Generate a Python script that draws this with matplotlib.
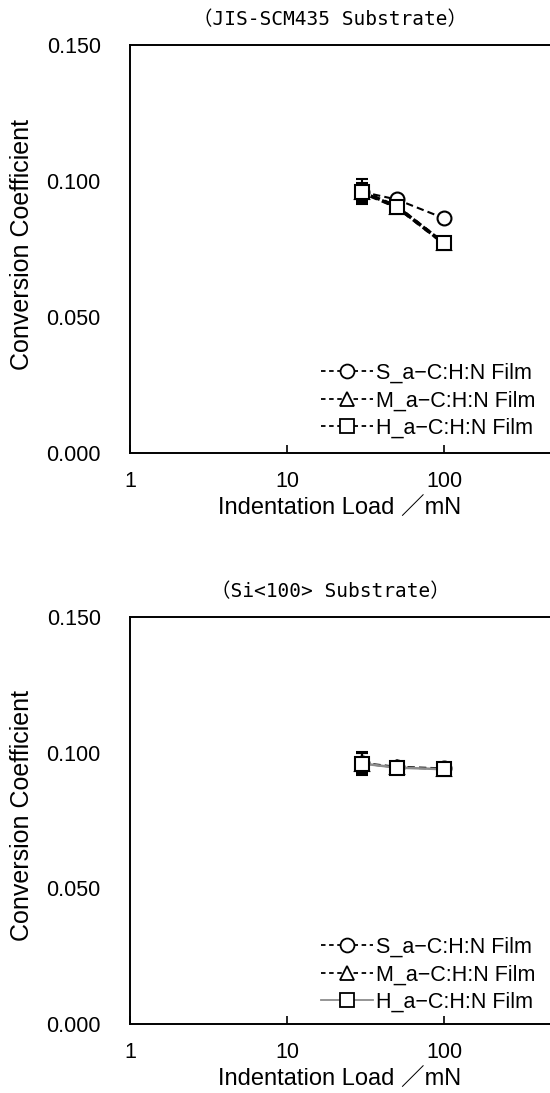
import matplotlib
matplotlib.use("Agg")
import matplotlib.pyplot as plt
from matplotlib.lines import Line2D
import numpy as np

# ---- data ----
loads = [30, 50, 100]
series_names = ["S_a\u2212C:H:N Film", "M_a\u2212C:H:N Film", "H_a\u2212C:H:N Film"]

# JIS-SCM435 substrate
scm_S = [0.0960, 0.0932, 0.0863]
scm_M = [0.0958, 0.0905, 0.0771]
scm_H = [0.0961, 0.0906, 0.0771]
scm_S_err = [0.0030, 0.0010, 0.0010]
scm_M_err = [0.0035, 0.0012, 0.0010]
scm_H_err = [0.0045, 0.0012, 0.0010]

# Si<100> substrate
si_S = [0.0962, 0.0948, 0.0942]
si_M = [0.0960, 0.0946, 0.0940]
si_H = [0.0960, 0.0945, 0.0939]
si_S_err = [0.0035, 0.0008, 0.0008]
si_M_err = [0.0038, 0.0008, 0.0008]
si_H_err = [0.0042, 0.0008, 0.0008]

titles = ["\uff08JIS-SCM435 Substrate\uff09", "\uff08Si<100> Substrate\uff09"]
yticks = [0.0, 0.05, 0.10, 0.15]
ytick_labels = ["0.000", "0.050", "0.100", "0.150"]
xticks = [1, 10, 100]
xtick_labels = ["1", "10", "100"]
xlabel = "Indentation Load \uff0fmN"
ylabel = "Conversion Coefficient"

W, H = 550, 1093
fig = plt.figure(figsize=(W / 100, H / 100), dpi=100)

sans = ["Liberation Sans", "Noto Sans CJK JP"]
mono = ["DejaVu Sans Mono", "Noto Sans CJK JP"]

def axes_rect(left, top, right, bottom):
    return [left / W, 1 - bottom / H, (right - left) / W, (bottom - top) / H]

panels = [
    dict(top=45, bottom=453, title_y=20,
         S=scm_S, M=scm_M, Hs=scm_H, Se=scm_S_err, Me=scm_M_err, He=scm_H_err,
         Hstyle=dict(color="black", ls=(0, (2.0, 1.4)), lw=2.6),
         Mls=(0.8, (2.0, 1.4)), Mlw=2.6, leg_top=363),
    dict(top=617, bottom=1024, title_y=592,
         S=si_S, M=si_M, Hs=si_H, Se=si_S_err, Me=si_M_err, He=si_H_err,
         Hstyle=dict(color="#8c8c8c", ls="-", lw=1.8),
         Mls=(0, (3.5, 2)), Mlw=1.5, leg_top=937),
]

xmax = 10 ** ((553 - 130) / 157.0)

for i, p in enumerate(panels):
    ax = fig.add_axes(axes_rect(130, p["top"], 553, p["bottom"]))
    ax.set_xscale("log")
    ax.set_xlim(1, xmax)
    ax.set_ylim(0, 0.15)

    mk = dict(markersize=10, markerfacecolor="white", markeredgecolor="black",
              markeredgewidth=1.5)
    eb = dict(elinewidth=1.5, capsize=4, capthick=1.5, ecolor="black")

    ax.errorbar(loads, p["S"], yerr=p["Se"], marker="o", color="black",
                ls=(0, (3.5, 2)), lw=1.5, zorder=3, **mk, **eb)
    ax.errorbar(loads, p["M"], yerr=p["Me"], marker="^", color="black",
                ls=p["Mls"], lw=p["Mlw"], zorder=4, **mk, **eb)
    ax.errorbar(loads, p["Hs"], yerr=p["He"], marker="s",
                zorder=5, **p["Hstyle"], **mk, **eb)

    ax.set_xticks(xticks)
    ax.set_xticklabels(xtick_labels)
    ax.xaxis.set_minor_locator(matplotlib.ticker.NullLocator())
    ax.set_yticks(yticks)
    ax.set_yticklabels(ytick_labels)
    ax.tick_params(axis="x", direction="in", length=6, width=1.2, pad=13,
                   labelsize=15.5)
    ax.tick_params(axis="y", direction="in", length=0, width=1.2, pad=21,
                   labelsize=15.5)
    for lab in ax.get_xticklabels() + ax.get_yticklabels():
        lab.set_family(sans)

    for s in ["left", "bottom", "top"]:
        ax.spines[s].set_linewidth(1.4)
    ax.spines["right"].set_visible(False)

    fig.text(340 / W, 1 - (p["bottom"] + 56) / H, xlabel, ha="center",
             va="center", fontsize=17, family=sans)
    fig.text(22 / W, 1 - ((p["top"] + p["bottom"]) / 2 - 5) / H, ylabel,
             ha="center", va="center", rotation=90, fontsize=18, family=sans)

    fig.text(330 / W, 1 - p["title_y"] / H, titles[i], ha="center", va="center",
             fontsize=14, family=mono)

    mk2 = dict(markersize=10, markerfacecolor="white", markeredgecolor="black",
               markeredgewidth=1.3)
    handles = [
        Line2D([], [], color="black", ls=(0, (2.5, 2)), lw=1.3, marker="o", **mk2),
        Line2D([], [], color="black", ls=(0, (2.5, 2)), lw=1.3, marker="^", **mk2),
        Line2D([], [], color=p["Hstyle"]["color"],
               ls=(0, (2.5, 2)) if i == 0 else "-", lw=1.3, marker="s", **mk2),
    ]
    ax_h = p["bottom"] - p["top"]
    leg = ax.legend(handles, series_names, loc="upper left",
                    bbox_to_anchor=((321 - 130) / (553 - 130),
                                    1 - (p["leg_top"] - p["top"]) / ax_h),
                    frameon=False, handlelength=2.4,
                    handletextpad=0.15, labelspacing=0.3, borderaxespad=0,
                    borderpad=0, prop=dict(family=sans, size=15.5))

fig.savefig("out.png", dpi=100)
